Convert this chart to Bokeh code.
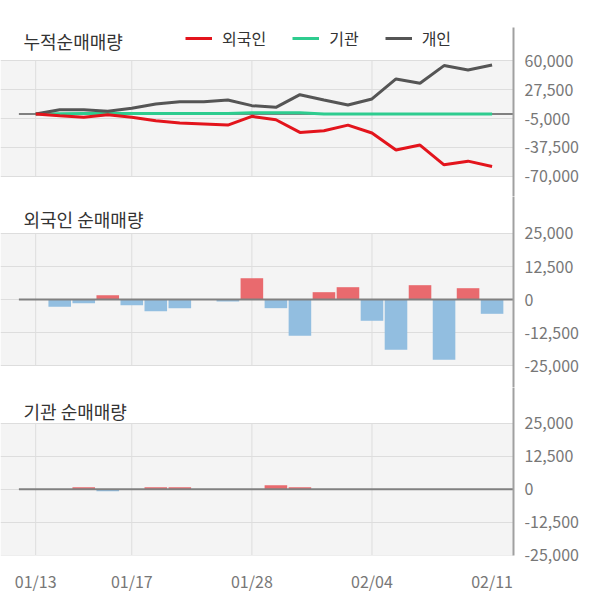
from bokeh.plotting import figure
from bokeh.layouts import column
from bokeh.models import (Range1d, FixedTicker, NumeralTickFormatter, BoxAnnotation,
                          Label, Legend, LegendItem)
from bokeh.embed import file_html
from bokeh.resources import INLINE

# ---------------- data ----------------
dates = ["01/13", "01/14", "01/15", "01/16", "01/17", "01/20", "01/21", "01/22", "01/23", "01/28",
         "01/29", "01/30", "01/31", "02/03", "02/04", "02/05", "02/06", "02/07", "02/10", "02/11"]

foreign_cum = [0, -1900, -3700, -800, -3700, -7500, -10100, -11200, -12400, -2600,
               -6400, -20600, -18700, -12400, -21300, -40400, -34800, -56900, -52800, -58800]
institution_cum = [0, 400, 500, 500, 500, 600, 700, 700, 700, 1500,
                   1500, 1500, 0, 0, 0, 0, 0, 0, 0, 0]
individual_cum = [0, 4900, 4900, 3000, 6400, 11200, 13900, 13900, 15700, 9400,
                  7500, 21700, 15700, 10100, 16900, 39300, 34500, 54300, 49400, 55000]

foreign_net = [0, -2770, -1390, 1640, -2140, -4410, -3280, 0, -760, 8060,
               -3280, -13730, 2770, 4660, -8060, -19030, 5420, -22810, 4280, -5420]
institution_net = [0, 0, 760, -760, 0, 760, 760, 0, 0, 0,
                   1510, 760, 0, 0, 0, 0, 0, 0, 0, 0]

cum_ticks = [60000, 27500, -5000, -37500, -70000]
net_ticks = [25000, 12500, 0, -12500, -25000]
date_ticks = ["01/13", "01/17", "01/28", "02/04", "02/11"]
grid_dates = ["01/13", "01/17", "01/28", "02/04"]

series_names = ["외국인", "기관", "개인"]
panel_titles = ["누적순매매량", "외국인 순매매량", "기관 순매매량"]

# ---------------- style ----------------
FONT = "Noto Sans CJK KR"
RED_LINE = "#e3141c"
GREEN_LINE = "#2ecc8f"
GREY_LINE = "#555555"
BAR_UP = "#e96a6e"
BAR_DOWN = "#92bee0"
PANEL_BG = "#f4f4f4"
GRID = "#dddddd"
AXIS_TXT = "#777777"

idx = list(range(len(dates)))
x_range = Range1d(-1.4655, 19.892)


def make_fig(frame_h, y_start, y_end, ticks, top_border, bottom_border, xaxis=False):
    p = figure(frame_width=513, frame_height=frame_h, x_range=x_range,
               y_range=Range1d(y_start, y_end), output_backend="svg",
               toolbar_location=None,
               x_axis_location="below" if xaxis else None,
               y_axis_location="right",
               min_border_left=0, min_border_right=85,
               min_border_top=top_border, min_border_bottom=bottom_border)
    p.outline_line_color = None
    p.background_fill_color = "white"
    p.border_fill_color = "white"
    p.xgrid.visible = False

    ya = p.yaxis[0]
    ya.ticker = FixedTicker(ticks=ticks)
    ya.formatter = NumeralTickFormatter(format="0,0")
    ya.major_tick_line_color = None
    ya.minor_tick_line_color = None
    ya.axis_line_color = "#a0a0a0"
    ya.axis_line_width = 2
    ya.major_label_text_font = FONT
    ya.major_label_text_font_size = "16px"
    ya.major_label_text_color = AXIS_TXT
    ya.major_label_standoff = 5

    p.ygrid.ticker = FixedTicker(ticks=ticks)
    p.ygrid.grid_line_color = GRID
    p.ygrid.grid_line_width = 1

    lo, hi = min(ticks), max(ticks)
    p.add_layout(BoxAnnotation(bottom=lo, top=hi, fill_color=PANEL_BG, fill_alpha=1,
                               line_color=None, level="image"))
    gx = [dates.index(d) for d in grid_dates]
    p.segment(x0=gx, x1=gx, y0=[lo] * len(gx), y1=[hi] * len(gx),
              line_color=GRID, line_width=1)

    if xaxis:
        xa = p.xaxis[0]
        tk = [dates.index(d) for d in date_ticks]
        xa.ticker = FixedTicker(ticks=tk)
        xa.major_label_overrides = {i: dates[i] for i in tk}
        xa.axis_line_color = None
        xa.major_tick_line_color = None
        xa.minor_tick_line_color = None
        xa.major_label_text_font = FONT
        xa.major_label_text_font_size = "16px"
        xa.major_label_text_color = AXIS_TXT
        xa.major_label_standoff = 7
    return p


def zero_line(p):
    p.segment(x0=[-0.7], x1=[x_range.end + 1], y0=[0], y1=[0],
              line_color="#808080", line_width=2)


def title(p, text, y):
    p.add_layout(Label(x=23, y=y, x_units="screen", y_units="screen", text=text,
                       text_font=FONT, text_font_size="18px", text_color="#333333",
                       text_baseline="middle"))


def bars(p, values):
    colors = [BAR_UP if v >= 0 else BAR_DOWN for v in values]
    p.vbar(x=idx, top=values, bottom=0, width=0.94, fill_color=colors, line_color=None)


# ---------------- panel 1: cumulative ----------------
p1 = make_fig(169, -92414, 96983, cum_ticks, 27, 0)
zero_line(p1)
r_inst = p1.line(idx, institution_cum, line_color=GREEN_LINE, line_width=3)
r_indv = p1.line(idx, individual_cum, line_color=GREY_LINE, line_width=3)
r_for = p1.line(idx, foreign_cum, line_color=RED_LINE, line_width=3)
title(p1, panel_titles[0], 156)
legend = Legend(items=[LegendItem(label=series_names[0], renderers=[r_for]),
                       LegendItem(label=series_names[1], renderers=[r_inst]),
                       LegendItem(label=series_names[2], renderers=[r_indv])],
                location=(185, 146), orientation="horizontal",
                background_fill_alpha=0, border_line_color=None,
                padding=0, margin=0, spacing=26, glyph_width=27, glyph_height=18,
                label_height=18, label_standoff=10,
                label_text_font=FONT, label_text_font_size="16px",
                label_text_color="#333333")
p1.add_layout(legend)

# ---------------- panel 2: foreign net ----------------
p2 = make_fig(191, -33333, 39015, net_ticks, 0, 0)
bars(p2, foreign_net)
zero_line(p2)
title(p2, panel_titles[1], 169)

# ---------------- panel 3: institution net ----------------
p3 = make_fig(168, -25190, 38688, net_ticks, 0, 40, xaxis=True)
bars(p3, institution_net)
zero_line(p3)
title(p3, panel_titles[2], 145)

layout = column(p1, p2, p3, spacing=0)
open("out.html", "w").write(file_html(layout, INLINE))
